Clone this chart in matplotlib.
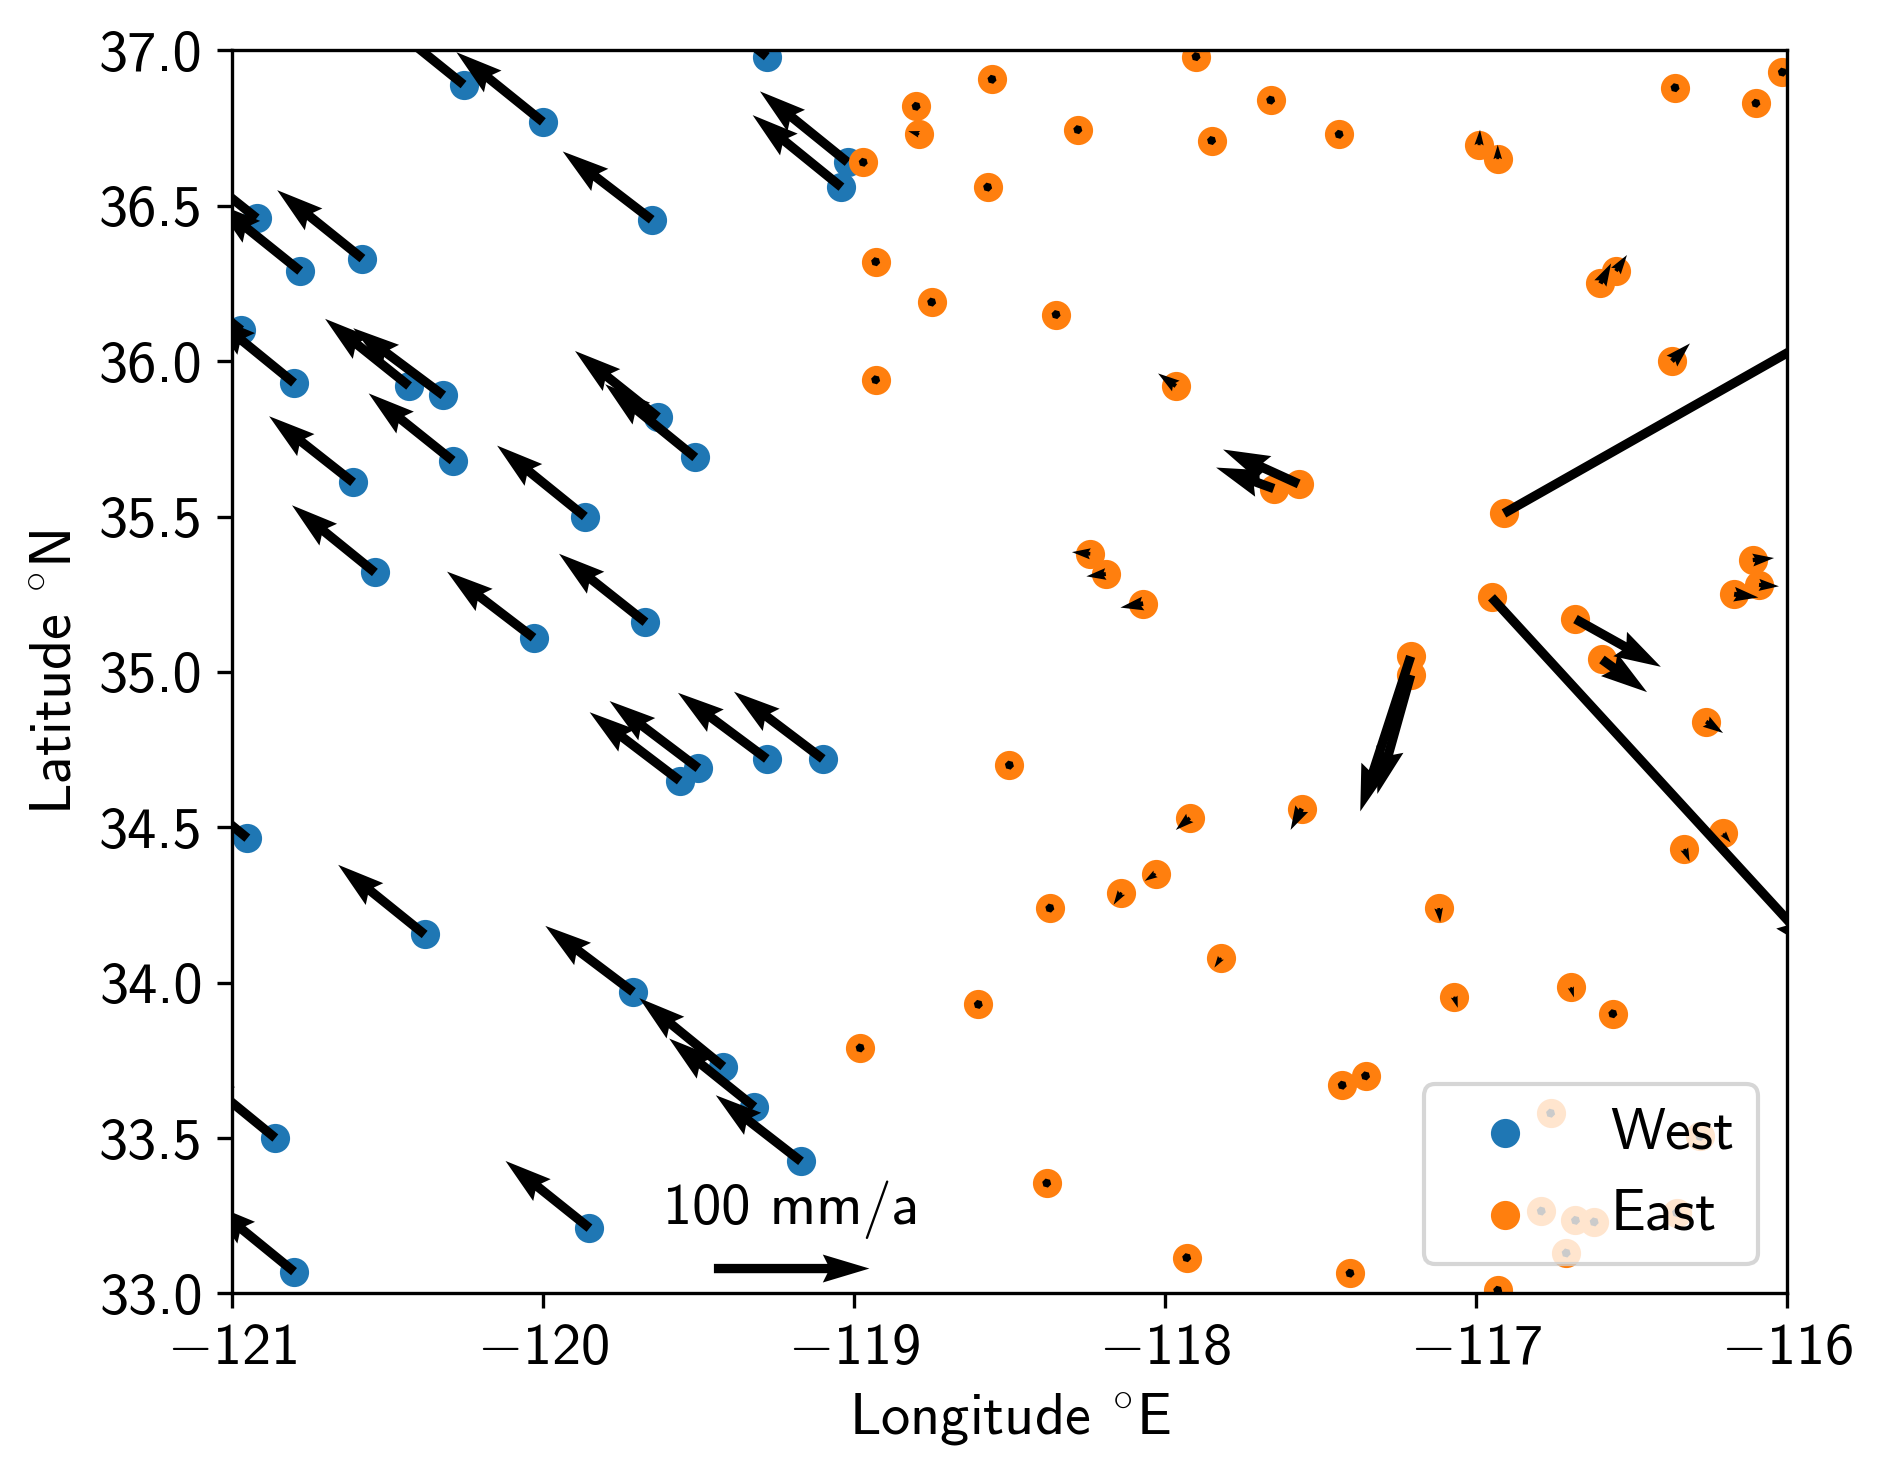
import matplotlib
matplotlib.use('Agg')
import matplotlib.pyplot as plt
import numpy as np

plt.rcParams['font.family'] = ['cmss10', 'DejaVu Sans']
plt.rcParams['font.size'] = 14
plt.rcParams['mathtext.fontset'] = 'cm'
plt.rcParams['axes.formatter.use_mathtext'] = True

# west of the fault
west_lon = [-120.0, -120.255, -119.65, -119.28, -119.02, -119.04, -120.92, -120.78, -120.58,
            -120.97, -120.80, -120.43, -120.32, -119.63, -119.51, -120.61, -120.29, -119.865,
            -120.54, -120.03, -119.67, -119.56, -119.50, -119.28, -119.10, -120.95, -120.38,
            -119.71, -119.42, -119.32, -119.17, -120.86, -119.85, -120.80]
west_lat = [36.77, 36.89, 36.455, 36.98, 36.64, 36.56, 36.46, 36.29, 36.33,
            36.10, 35.93, 35.92, 35.89, 35.82, 35.69, 35.61, 35.68, 35.50,
            35.32, 35.11, 35.16, 34.65, 34.69, 34.72, 34.72, 34.465, 34.155,
            33.97, 33.73, 33.60, 33.425, 33.50, 33.21, 33.07]
west_ve = [-55.6, -62, -57.2, -55, -56.4, -57.1, -55, -54.8, -54.8,
           -54.8, -54, -54, -57.9, -53.3, -57.9, -54, -54, -56.4,
           -53.3, -55.6, -55.6, -57.9, -57.1, -57.1, -57.1, -54.8, -55.6,
           -56.4, -54, -54.8, -54.8, -54.8, -54, -54]
west_vn = [44.8, 50, 43.9, 44, 45.6, 46.3, 44, 44, 44,
           43.2, 44, 43.2, 43.2, 42.5, 47.1, 42.5, 43.2, 45.6,
           43.2, 42.5, 44, 44, 43.2, 42.5, 43.2, 44.8, 44.8,
           42.5, 44, 44, 42.5, 44.8, 43.2, 44]

# east of the fault
east_lon = [-117.90, -118.556, -118.80, -118.79, -118.97, -118.28, -117.66, -117.85, -118.57,
            -118.93, -118.75, -118.35, -118.93, -117.965, -117.44, -116.99, -116.93, -116.36,
            -116.10, -116.015, -116.60, -116.55, -116.37, -117.57, -117.65, -116.91, -116.95,
            -117.21, -117.21, -116.68, -116.595, -116.11, -116.09, -116.17, -116.26, -116.205,
            -116.33, -117.12, -117.56, -117.92, -118.03, -118.14, -118.37, -118.24, -118.19,
            -118.07, -118.50, -117.82, -117.07, -116.695, -116.56, -118.60, -118.98, -117.43,
            -117.355, -118.38, -117.93, -117.405, -116.93, -116.76, -116.79, -116.68, -116.62,
            -116.71, -116.28, -116.355]
east_lat = [36.98, 36.907, 36.82, 36.73, 36.64, 36.745, 36.84, 36.71, 36.56,
            36.32, 36.19, 36.15, 35.94, 35.92, 36.73, 36.695, 36.65, 36.88,
            36.83, 36.93, 36.25, 36.29, 36.0, 35.605, 35.59, 35.51, 35.24,
            35.05, 34.99, 35.17, 35.04, 35.36, 35.28, 35.25, 34.84, 34.48,
            34.43, 34.24, 34.56, 34.53, 34.35, 34.29, 34.24, 35.38, 35.315,
            35.22, 34.70, 34.08, 33.955, 33.985, 33.90, 33.93, 33.79, 33.67,
            33.70, 33.355, 33.115, 33.065, 33.01, 33.58, 33.265, 33.235, 33.23,
            33.13, 33.505, 33.26]
east_ve = [0.5, 0.5, 0.5, -7, 0.5, 0.5, 0.5, 0.5, 0.5,
           0.5, 0.5, 0.5, 0.5, -11.4, 0.5, 0.6, 0, 0.5,
           0.5, 0.5, 6.9, 7.1, 11.6, -48.6, -37.1, 300, 210,
           -32.4, -21.4, 54.9, 29, 13.7, 12.8, 15.6, 10.9, 4.7,
           3.4, 1.0, -7.2, -9, -7, -5, 0.5, -11.8, -12.5,
           -14.6, 0.5, -4.2, 2.3, 2, 0.5, 0.5, 0.5, 0.5,
           0.5, 0.5, 0.5, 0.5, 0.5, 0.5, 0.5, 0.5, 0.5,
           0.5, 0.5, 0.5]
east_vn = [0.5, 0.5, 0.5, 2, 0.5, 0.5, 0.5, 0.5, 0.5,
           0.5, 0.5, 0.5, 0.5, 8.1, 0.5, 9.9, 9.2, 0.5,
           0.5, 0.5, 12.9, 10.3, 11.4, 22.1, 13.5, 170, -229,
           -99.7, -76.5, -30.7, -21, 1.3, -0.9, -2.1, -7.3, -5.8,
           -8.1, -9.2, -13.7, -7.7, -4.5, -7.8, 0.5, 1.1, -1.5,
           -2.6, 0.5, -6.3, -7.2, -6.5, 0.5, 0.5, 0.5, 0.5,
           0.5, 0.5, 0.5, 0.5, 0.5, 0.5, 0.5, 0.5, 0.5,
           0.5, 0.5, 0.5]

x_ticks = [-121, -120, -119, -118, -117, -116]
y_ticks = [33.0, 33.5, 34.0, 34.5, 35.0, 35.5, 36.0, 36.5, 37.0]
x_labels = ['$-$121', '$-$120', '$-$119', '$-$118', '$-$117', '$-$116']
y_labels = ['33.0', '33.5', '34.0', '34.5', '35.0', '35.5', '36.0', '36.5', '37.0']


def main():
    fig = plt.figure(figsize=(1883 / 300, 1474 / 300), dpi=300)
    ax = fig.add_axes([231.8 / 1883, 180.6 / 1474, 1555.2 / 1883, 1243 / 1474])

    ax.scatter(west_lon, west_lat, label='West')
    ax.quiver(west_lon, west_lat, west_ve, west_vn, scale=1000, width=0.006)
    ax.scatter(east_lon, east_lat, label='East')
    q = ax.quiver(east_lon, east_lat, east_ve, east_vn, scale=1000, width=0.006)
    ax.quiverkey(q, 0.36, 0.02, 100, '100 mm/a', coordinates='axes')

    ax.set_xlim(-121, -116)
    ax.set_ylim(33, 37)
    ax.set_xticks(x_ticks)
    ax.set_xticklabels(x_labels)
    ax.set_yticks(y_ticks)
    ax.set_yticklabels(y_labels)
    ax.set_xlabel('Longitude $^{\\circ}$E')
    ax.set_ylabel('Latitude $^{\\circ}$N')
    ax.legend(loc='lower right')

    fig.savefig('out.png', dpi=300)


if __name__ == "__main__":
    main()
